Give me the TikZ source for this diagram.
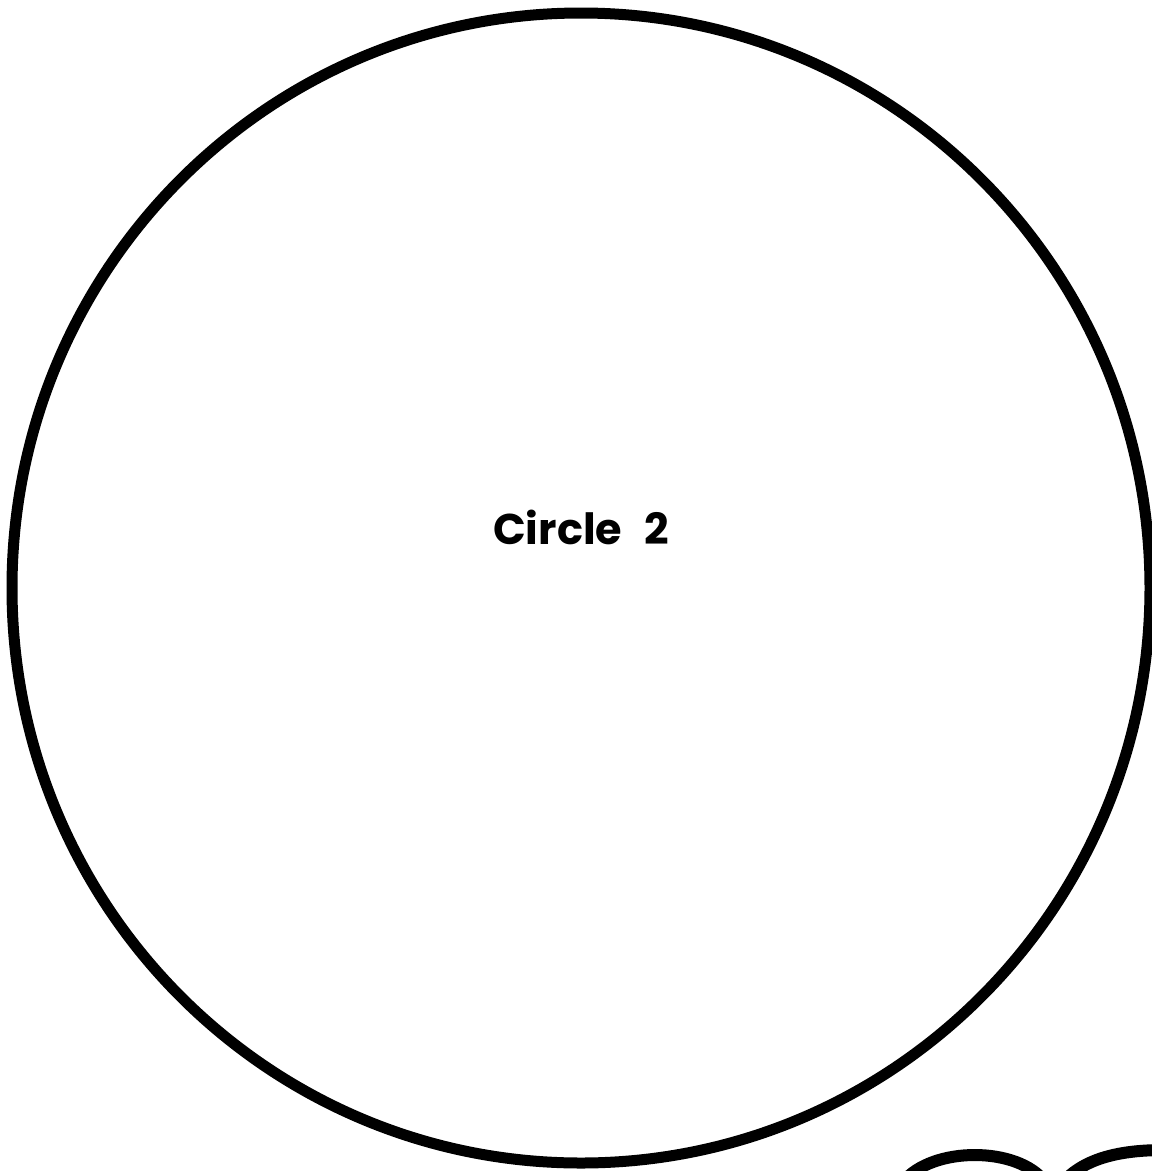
\documentclass[tikz,border=0pt]{standalone}
\usepackage{fontspec}
\setmainfont{Poppins}
\usetikzlibrary{positioning, shapes.geometric}

\begin{document}
\begin{tikzpicture}[
  x=1pt, y=-1pt,
  ring/.style={draw=black, line width=11pt},
  lbl/.style={font=\fontsize{43}{48}\selectfont\bfseries, inner sep=0pt},
  hump/.style={draw=black, line width=12pt}
]
  \clip (0,0) rectangle (1152,1171);
  \fill[white] (0,0) rectangle (1152,1171);
  \node[ring, ellipse, minimum width=1138pt, minimum height=1150pt, inner sep=0pt] (circ) at (581,588) {};
  \node[lbl] (name) at (581,527) {Circle\hspace{22pt}2};
  % pieces of the next shapes, cut by the page edge
  \coordinate (h1a) at (903,1182);
  \coordinate (h1b) at (1045,1182);
  \coordinate (h2a) at (1063,1182);
  \coordinate (h2b) at (1165,1150);
  \draw[hump] (h1a) .. controls (932,1146) and (1018,1146) .. (h1b);
  \draw[hump] (h2a) .. controls (1085,1158) and (1120,1150) .. (h2b);
\end{tikzpicture}
\end{document}
